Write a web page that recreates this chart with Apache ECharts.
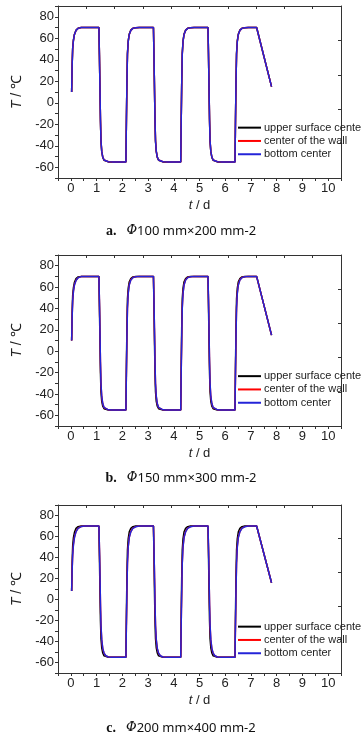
<!DOCTYPE html>
<html>
<head>
<meta charset="utf-8">
<script src="https://cdn.jsdelivr.net/npm/echarts@6/dist/echarts.min.js"></script>
<style>
html,body{margin:0;padding:0;background:#fff;}
#chart{width:362px;height:736px;}
</style>
</head>
<body>
<div id="chart"></div>
<script>
// ---- data (time in days, temperature in ℃) ----
var days = [0.03,0.05,0.07,0.10,0.14,0.20,0.28,0.40,0.55,
  1.09,1.11,1.13,1.15,1.17,1.20,1.24,1.29,1.36,1.46,1.60,
  2.14,2.16,2.18,2.20,2.23,2.27,2.33,2.41,2.52,2.66,
  3.21,3.23,3.25,3.27,3.29,3.32,3.36,3.41,3.48,3.58,3.72,
  4.27,4.29,4.31,4.33,4.36,4.40,4.46,4.54,4.65,4.79,
  5.33,5.35,5.37,5.39,5.41,5.44,5.48,5.53,5.60,5.70,5.84,
  6.38,6.40,6.42,6.44,6.47,6.51,6.57,6.65,6.76,6.90,
  7.22,7.80];

var seriesNames = ['upper surface center','center of the wall','bottom center'];
var seriesColors = ['#000000','#ff0000','#2424d8'];

// panel a: Φ100 mm×200 mm-2
var aUpper = [10,35.5,50.5,58.4,63.8,67.5,69.3,70,70,
  70,44,14,-16,-36,-45.5,-50.8,-53.5,-54.7,-55,-55,
  -55,-14,21,46,57.5,64,67.6,69.3,69.8,70,
  70,44,14,-16,-36,-45.5,-50.8,-53.5,-54.7,-55,-55,
  -55,-14,21,46,57.5,64,67.6,69.3,69.8,70,
  70,44,14,-16,-36,-45.5,-50.8,-53.5,-54.7,-55,-55,
  -55,-14,21,46,57.5,64,67.6,69.3,69.8,70,
  70,15];
var aWall = [10,35,50,58,63.5,67.3,69.2,70,70,
  70,45,15,-15,-35,-45,-50.5,-53.3,-54.6,-54.9,-55,
  -55,-15,20,45,57,63.5,67.3,69.2,69.8,70,
  70,45,15,-15,-35,-45,-50.5,-53.3,-54.6,-54.9,-55,
  -55,-15,20,45,57,63.5,67.3,69.2,69.8,70,
  70,45,15,-15,-35,-45,-50.5,-53.3,-54.6,-54.9,-55,
  -55,-15,20,45,57,63.5,67.3,69.2,69.8,70,
  70,15];
var aBottom = [10,35,50,58,63.5,67.3,69.2,70,70,
  70,45,15,-15,-35,-45,-50.5,-53.3,-54.6,-54.9,-55,
  -55,-15,20,45,57,63.5,67.3,69.2,69.8,70,
  70,45,15,-15,-35,-45,-50.5,-53.3,-54.6,-54.9,-55,
  -55,-15,20,45,57,63.5,67.3,69.2,69.8,70,
  70,45,15,-15,-35,-45,-50.5,-53.3,-54.6,-54.9,-55,
  -55,-15,20,45,57,63.5,67.3,69.2,69.8,70,
  70,15];

// panel b: Φ150 mm×300 mm-2
var bUpper = [10,37,52,59.5,64.5,68,69.5,70,70,
  70,42,10,-20,-38,-47,-51.5,-53.8,-54.8,-55,-55,
  -55,-12,25,49,59,65,68,69.5,69.9,70,
  70,42,10,-20,-38,-47,-51.5,-53.8,-54.8,-55,-55,
  -55,-12,25,49,59,65,68,69.5,69.9,70,
  70,42,10,-20,-38,-47,-51.5,-53.8,-54.8,-55,-55,
  -55,-12,25,49,59,65,68,69.5,69.9,70,
  70,15];
var bWall = [10,32.5,47.5,56.4,62.3,66.4,68.8,69.8,70,
  70,47,19,-11,-31,-42.8,-49.4,-52.8,-54.4,-54.9,-55,
  -55,-17,16,41,54.8,62.5,66.8,68.9,69.7,70,
  70,47,19,-11,-31,-42.8,-49.4,-52.8,-54.4,-54.9,-55,
  -55,-17,16,41,54.8,62.5,66.8,68.9,69.7,70,
  70,47,19,-11,-31,-42.8,-49.4,-52.8,-54.4,-54.9,-55,
  -55,-17,16,41,54.8,62.5,66.8,68.9,69.7,70,
  70,15];
var bBottom = [10,32,47,56,62,66.2,68.7,69.8,70,
  70,48,20,-10,-30,-42,-49,-52.6,-54.3,-54.9,-55,
  -55,-18,15,40,54,62,66.5,68.8,69.7,70,
  70,48,20,-10,-30,-42,-49,-52.6,-54.3,-54.9,-55,
  -55,-18,15,40,54,62,66.5,68.8,69.7,70,
  70,48,20,-10,-30,-42,-49,-52.6,-54.3,-54.9,-55,
  -55,-18,15,40,54,62,66.5,68.8,69.7,70,
  70,15];

// panel c: Φ200 mm×400 mm-2
var cUpper = [8,36,51,59,64,67.8,69.4,70,70,
  70,42,8,-20,-37,-46,-51,-53.7,-54.8,-55,-55,
  -55,-12,24,47,58,64.5,67.8,69.4,69.9,70,
  70,42,8,-20,-37,-46,-51,-53.7,-54.8,-55,-55,
  -55,-12,24,47,58,64.5,67.8,69.4,69.9,70,
  70,42,8,-20,-37,-46,-51,-53.7,-54.8,-55,-55,
  -55,-12,24,47,58,64.5,67.8,69.4,69.9,70,
  70,16];
var cWall = [8,28.8,43,52.8,59.6,64.8,68,69.5,70,
  70,49,24,-4,-25,-38.8,-47,-51.3,-53.7,-54.8,-55,
  -55,-21,11,35,50.8,59.5,64.8,68,69.4,70,
  70,49,24,-4,-25,-38.8,-47,-51.3,-53.7,-54.8,-55,
  -55,-21,11,35,50.8,59.5,64.8,68,69.4,70,
  70,49,24,-4,-25,-38.8,-47,-51.3,-53.7,-54.8,-55,
  -55,-21,11,35,50.8,59.5,64.8,68,69.4,70,
  70,16];
var cBottom = [8,28,42,52,59,64.5,67.8,69.5,70,
  70,50,25,-3,-24,-38,-46.5,-51,-53.6,-54.8,-55,
  -55,-22,10,34,50,59,64.5,67.8,69.3,70,
  70,50,25,-3,-24,-38,-46.5,-51,-53.6,-54.8,-55,
  -55,-22,10,34,50,59,64.5,67.8,69.3,70,
  70,50,25,-3,-24,-38,-46.5,-51,-53.6,-54.8,-55,
  -55,-22,10,34,50,59,64.5,67.8,69.3,70,
  70,16];

var xTickLabels = [0,1,2,3,4,5,6,7,8,9,10];
var yTickLabels = [-60,-40,-20,0,20,40,60,80];
var captionLetters = ['a.','b.','c.'];
var captionSizes = ['100 mm×200 mm-2','150 mm×300 mm-2','200 mm×400 mm-2'];

// ---- layout ----
var panels = [
  {top:6, height:172, legendTop:121, capTop:222, values:[aUpper,aWall,aBottom]},
  {top:255, height:171, legendTop:369.5, capTop:469, values:[bUpper,bWall,bBottom]},
  {top:505, height:168, legendTop:620, capTop:719, values:[cUpper,cWall,cBottom]}
];

var FONT = "'Liberation Sans',Arial,sans-serif";
var axisLineStyle = {color:'#333', width:1};

var option = {
  animation:false,
  backgroundColor:'#fff',
  grid:[], xAxis:[], yAxis:[], series:[], legend:[], title:[]
};

panels.forEach(function(p, i){
  option.grid.push({left:58, right:21, top:p.top, height:p.height, containLabel:false});
  // bottom x axis
  option.xAxis.push({
    type:'value', gridIndex:i, position:'bottom', min:-0.5, max:10.5, interval:0.5,
    axisLine:{show:true, onZero:false, lineStyle:axisLineStyle},
    axisTick:{show:true, inside:false, length:3, lineStyle:axisLineStyle},
    axisLabel:{customValues:xTickLabels, color:'#222', fontSize:13, fontFamily:FONT, margin:4},
    splitLine:{show:false},
    name:'{i|t} / d', nameLocation:'middle', nameGap:21,
    nameTextStyle:{color:'#222', fontSize:13, fontFamily:FONT, rich:{i:{fontStyle:'italic', fontSize:13, fontFamily:FONT, color:'#222'}}}
  });
  // top x axis (frame)
  option.xAxis.push({
    type:'value', gridIndex:i, position:'top', min:-0.5, max:10.5, interval:1.1,
    axisLine:{show:true, onZero:false, lineStyle:axisLineStyle},
    axisTick:{show:true, inside:true, length:3, lineStyle:axisLineStyle},
    axisLabel:{show:false}, splitLine:{show:false}
  });
  // left y axis
  option.yAxis.push({
    type:'value', gridIndex:i, position:'left', min:-70, max:90, interval:10,
    axisLine:{show:true, onZero:false, lineStyle:axisLineStyle},
    axisTick:{show:true, inside:false, length:3, lineStyle:axisLineStyle},
    axisLabel:{customValues:yTickLabels, color:'#222', fontSize:13, fontFamily:FONT, margin:4},
    splitLine:{show:false},
    name:'{i|T} / ℃', nameLocation:'middle', nameGap:30, nameRotate:90,
    nameTextStyle:{color:'#222', fontSize:14, fontFamily:FONT, rich:{i:{fontStyle:'italic', fontSize:14, fontFamily:FONT, color:'#222'}}}
  });
  // right y axis (frame)
  option.yAxis.push({
    type:'value', gridIndex:i, position:'right', min:-70, max:90, interval:32,
    axisLine:{show:true, onZero:false, lineStyle:axisLineStyle},
    axisTick:{show:true, inside:true, length:3, lineStyle:axisLineStyle},
    axisLabel:{show:false}, splitLine:{show:false}
  });
  p.values.forEach(function(vals, k){
    option.series.push({
      name:seriesNames[k], type:'line', xAxisIndex:i*2, yAxisIndex:i*2,
      data:days.map(function(d, j){ return [d, vals[j]]; }),
      symbol:'none', showSymbol:false,
      lineStyle:{color:seriesColors[k], width:1.5},
      itemStyle:{color:seriesColors[k]},
      z:2+k
    });
  });
  option.legend.push({
    orient:'vertical', left:238, top:p.legendTop, itemWidth:23, itemHeight:2, itemGap:0,
    icon:'rect', padding:0, selectedMode:false,
    data:seriesNames,
    textStyle:{color:'#222', fontSize:11, fontFamily:FONT, lineHeight:13.3, padding:[0,0,0,-2]}
  });
  option.title.push({
    left:'center', top:p.capTop, padding:0,
    text:'{b|' + captionLetters[i] + '}  {i|Φ}{n|' + captionSizes[i] + '}',
    textStyle:{fontWeight:'normal', rich:{
      b:{fontFamily:"'Liberation Serif','DejaVu Serif',serif", fontWeight:'bold', fontSize:14, color:'#111'},
      i:{fontFamily:"'DejaVu Serif','Liberation Serif',serif", fontStyle:'italic', fontWeight:'normal', fontSize:13, color:'#111'},
      n:{fontFamily:"'Noto Sans','DejaVu Sans',sans-serif", fontWeight:'normal', fontSize:13, color:'#111'}
    }}
  });
});

var chart = echarts.init(document.getElementById('chart'), null, {renderer:'canvas'});
chart.setOption(option);
</script>
</body>
</html>
